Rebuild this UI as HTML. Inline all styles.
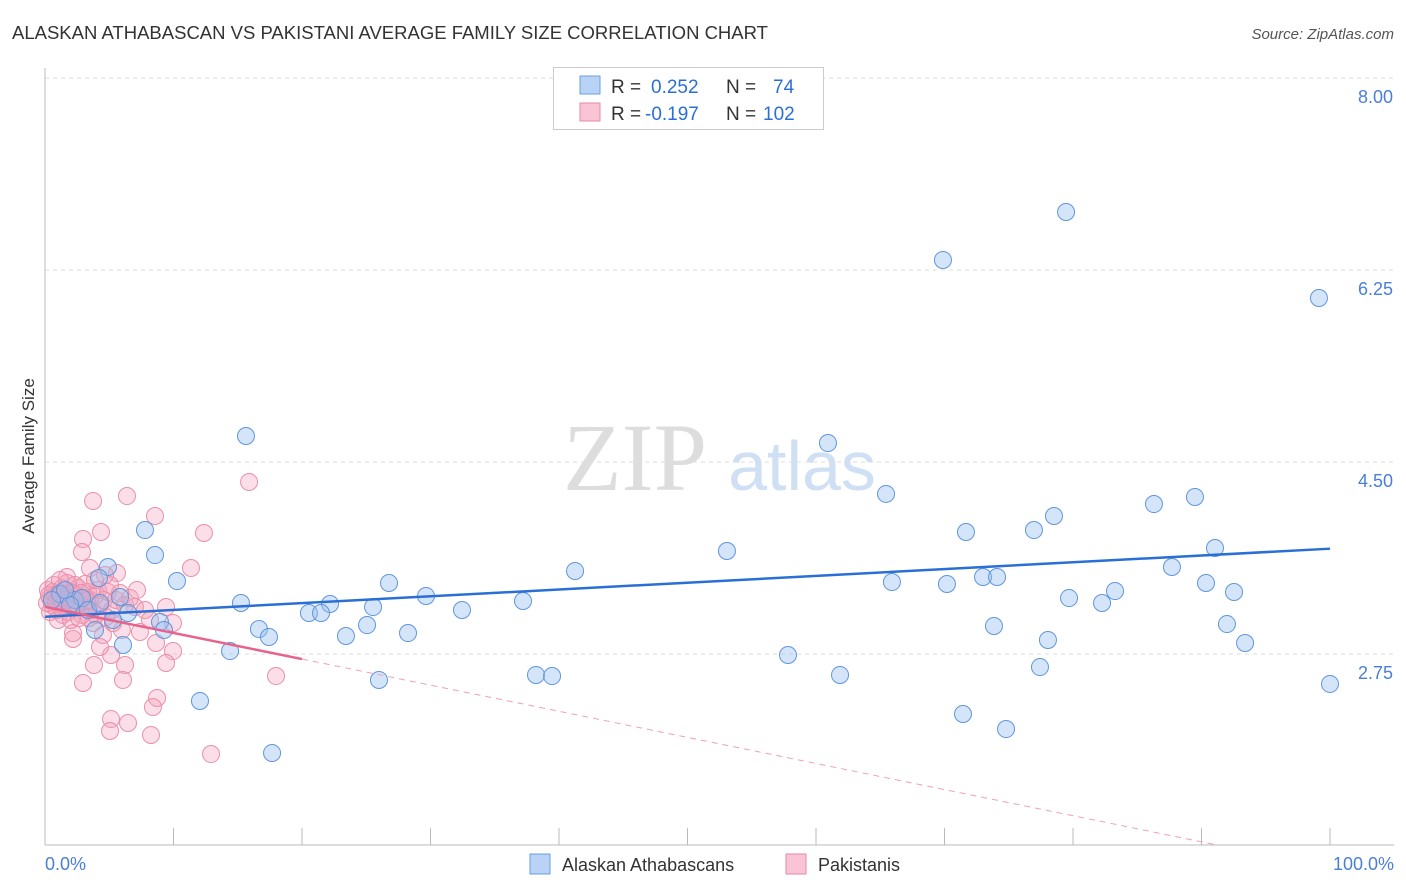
<!DOCTYPE html>
<html><head><meta charset="utf-8"><style>
body{margin:0;background:#fff;font-family:"Liberation Sans",sans-serif;}
#w{position:relative;width:1406px;height:892px;overflow:hidden}
</style></head><body>
<div id="w">
<svg id="s" width="1406" height="892" xmlns="http://www.w3.org/2000/svg">
<text x="12" y="39" font-size="18.5" fill="#333">ALASKAN ATHABASCAN VS PAKISTANI AVERAGE FAMILY SIZE CORRELATION CHART</text>
<text x="1394" y="39" font-size="15" fill="#555" font-style="italic" text-anchor="end">Source: ZipAtlas.com</text>
<text transform="translate(34,456) rotate(-90)" font-size="17" fill="#333" text-anchor="middle">Average Family Size</text>
<g><text x="635" y="490" font-size="96" font-family="Liberation Serif,serif" fill="#ddd" text-anchor="middle">ZIP</text><text x="802" y="490" font-size="70" fill="#cfe0f4" text-anchor="middle">atlas</text></g>
<g id="grid"></g><g id="axes"></g><g id="pts"></g><g id="trend"></g>
<g>
<rect x="553.5" y="67.5" width="270" height="62" fill="#fff" stroke="#ccc"/>
<rect x="580" y="76" width="20" height="18" fill="#b8d3f5" stroke="#6a9fe0"/>
<rect x="580" y="103" width="20" height="18" fill="#f9c4d3" stroke="#e88aa8"/>
<text y="93" font-size="19" fill="#333"><tspan x="611">R = </tspan><tspan x="651" fill="#2a6fd6">0.252</tspan><tspan x="726">N = </tspan><tspan x="773" fill="#2a6fd6">74</tspan></text>
<text y="120" font-size="19" fill="#333"><tspan x="611">R = </tspan><tspan x="645" fill="#2a6fd6">-0.197</tspan><tspan x="726">N = </tspan><tspan x="763" fill="#2a6fd6">102</tspan></text>
</g>
<g>
<rect x="530" y="854" width="20" height="20" fill="#b8d3f5" stroke="#6a9fe0"/>
<text x="562" y="871" font-size="18" fill="#333">Alaskan Athabascans</text>
<rect x="786" y="854" width="20" height="20" fill="#f9c4d3" stroke="#e88aa8"/>
<text x="818" y="871" font-size="18" fill="#333">Pakistanis</text>
</g>
<text x="45" y="870" font-size="18" fill="#4a7fd6">0.0%</text>
<text x="1394" y="870" font-size="18" fill="#4a7fd6" text-anchor="end">100.0%</text>
</svg>
</div>
<script>
const yTicks=[8.00,6.25,4.50,2.75];
const yTickLabels=["8.00","6.25","4.50","2.75"];
const xTicks=[0,10,20,30,40,50,60,70,80,90,100];
const bluePx=[[1066,212],[943,260],[1319,298],[246,436],[828,443],[886,494],[1195,497],[1154,504],[1054,516],[145,530],[966,532],[1034,530],[1215,548],[727,551],[155,555],[1172,567],[575,571],[108,567],[99,578],[177,581],[389,583],[892,582],[947,584],[983,577],[997,577],[1206,583],[1115,591],[1234,592],[426,596],[1069,598],[120,597],[241,603],[523,601],[330,604],[1102,603],[462,610],[373,607],[309,613],[321,613],[128,613],[113,620],[160,622],[367,625],[994,626],[1227,624],[164,630],[95,630],[259,629],[269,637],[408,633],[346,636],[1048,640],[1245,643],[123,645],[230,651],[788,655],[1040,667],[536,675],[552,676],[840,675],[379,680],[1330,684],[200,701],[963,714],[1006,729],[272,753],[60,594],[75,600],[82,598],[88,610],[70,605],[52,600],[65,590],[100,603]];
const pinkPx=[[93,501],[127,496],[155,516],[101,532],[83,539],[82,552],[204,533],[191,568],[117,573],[90,568],[67,577],[135,607],[166,607],[173,623],[140,632],[156,643],[173,651],[166,663],[125,665],[94,665],[111,655],[73,639],[83,683],[123,680],[157,698],[153,707],[111,719],[128,723],[110,731],[151,735],[211,754],[276,676],[249,482],[103,635],[122,630],[113,623],[93,623],[73,633],[100,647],
[48,590],[50,598],[52,605],[55,595],[57,610],[60,600],[62,588],[64,603],[66,596],[68,612],[70,592],[72,600],[74,607],[76,596],[78,588],[80,603],[82,615],[84,598],[86,607],[88,592],[90,600],[92,610],[95,596],[98,590],[100,605],[104,600],[108,592],[112,610],[116,600],[120,593],[125,605],[50,612],[54,585],[58,620],[63,615],[67,583],[71,620],[75,585],[79,618],[85,584],[89,618],[47,603],[49,595],[53,592],[56,602],[59,593],[61,608],[65,600],[69,598],[73,593],[77,604],[81,593],[87,600],[96,615],[106,617],[130,598],[145,610],[110,585],[105,575],[60,580],[95,580],[137,590],[150,620]];
const blueTrend=[3.09,0.0062];
const pinkTrend=[3.18,-0.0238];
const NS="http://www.w3.org/2000/svg";
const X0=45,X1=1330,XS=(X1-X0)/100;
const xs=p=>X0+p*XS, ys=v=>654-(v-2.75)*109.7;
const xInv=px=>(px-X0)/XS, yInv=py=>2.75+(654-py)/109.7;
const blueX=bluePx.map(d=>+xInv(d[0]).toFixed(2)), blueY=bluePx.map(d=>+yInv(d[1]).toFixed(3));
const pinkX=pinkPx.map(d=>+xInv(d[0]).toFixed(2)), pinkY=pinkPx.map(d=>+yInv(d[1]).toFixed(3));
function mk(t,a,p){const e=document.createElementNS(NS,t);for(const k in a)e.setAttribute(k,a[k]);p.appendChild(e);return e;}
const grid=document.getElementById('grid'),axes=document.getElementById('axes'),pts=document.getElementById('pts'),tr=document.getElementById('trend');
yTicks.forEach((v,i)=>{
 const l=mk('line',{x1:45,x2:1394,y1:ys(v),y2:ys(v),stroke:'#ddd','stroke-dasharray':'4,4'},grid);
 
 
 const t=mk('text',{x:1393,y:ys(v)+25,'font-size':18,fill:'#4a7fd6','text-anchor':'end'},grid);
 t.textContent=yTickLabels[i];
 
 
});
const ya=mk('line',{x1:45,x2:45,y1:68,y2:845,stroke:'#bbb'},axes);


const xa=mk('line',{x1:45,x2:1394,y1:845,y2:845,stroke:'#bbb'},axes);


xTicks.forEach(p=>{const t=mk('line',{x1:xs(p),x2:xs(p),y1:828,y2:845,stroke:'#bbb'},axes);
 
 });
pinkX.forEach((x,i)=>{const c=mk('circle',{cx:xs(x),cy:ys(pinkY[i]),r:8.5,fill:'rgba(244,160,186,0.35)',stroke:'#ea8fac','stroke-width':1},pts);
 
 });
blueX.forEach((x,i)=>{const c=mk('circle',{cx:xs(x),cy:ys(blueY[i]),r:8.5,fill:'rgba(150,190,240,0.4)',stroke:'#5f96dc','stroke-width':1},pts);
 
 });
const bl=mk('line',{x1:xs(0),y1:ys(blueTrend[0]),x2:xs(100),y2:ys(blueTrend[0]+100*blueTrend[1]),stroke:'#2a6fd6','stroke-width':2.5},tr);


const pl=mk('line',{x1:xs(0),y1:ys(pinkTrend[0]),x2:xs(20),y2:ys(pinkTrend[0]+20*pinkTrend[1]),stroke:'#e8638c','stroke-width':2.5},tr);


const vEnd=yInv(845),pEnd=Math.min(100,(vEnd-pinkTrend[0])/pinkTrend[1]);
const pd=mk('line',{x1:xs(20),y1:ys(pinkTrend[0]+20*pinkTrend[1]),x2:xs(pEnd),y2:ys(pinkTrend[0]+pEnd*pinkTrend[1]),stroke:'#eea0b8','stroke-width':1,'stroke-dasharray':'6,5'},tr);


</script>
</body></html>
